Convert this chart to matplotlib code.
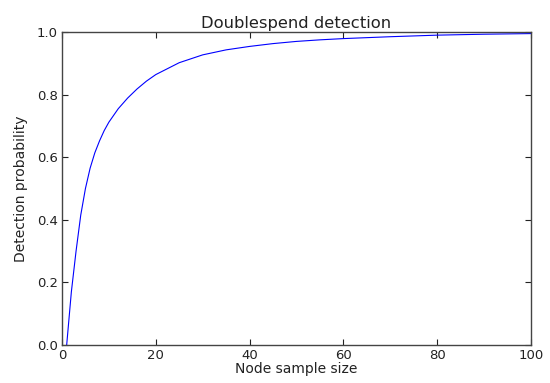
import matplotlib
matplotlib.use("Agg")
from matplotlib import pyplot as plt

# values
sample_size = [1, 2, 3, 4, 5, 6, 7, 8, 9, 10, 12, 14, 16, 18, 20, 25, 30, 35,
               40, 45, 50, 55, 60, 70, 80, 90, 100]
detect_prob = [0.0, 0.17, 0.30, 0.415, 0.50, 0.565, 0.614, 0.652, 0.685, 0.712,
               0.755, 0.789, 0.818, 0.843, 0.864, 0.902, 0.927, 0.943,
               0.954, 0.963, 0.970, 0.975, 0.979, 0.985, 0.990, 0.993, 0.995]

x_ticks = [0, 20, 40, 60, 80, 100]
y_ticks = [0.0, 0.2, 0.4, 0.6, 0.8, 1.0]

fig = plt.figure(figsize=(5.5, 3.83), dpi=100)
ax = fig.add_axes([0.1127, 0.0992, 0.8527, 0.8172])

ax.plot(sample_size, detect_prob, color="blue", lw=0.8)

ax.set_xlim(0, 100)
ax.set_ylim(0, 1.0)
ax.set_xticks(x_ticks)
ax.set_yticks(y_ticks)
ax.set_xticklabels([str(t) for t in x_ticks])
ax.set_yticklabels([f"{t:.1f}" for t in y_ticks])
ax.tick_params(direction="in", top=True, right=True, length=4, width=0.8,
               labelsize=9.5, pad=3, colors="#222222")
for s in ax.spines.values():
    s.set_linewidth(1.0)
    s.set_color("#444444")

ax.set_xlabel("Node sample size", fontsize=10, labelpad=0, color="#222222")
ax.set_ylabel("Detection probability", fontsize=10, labelpad=6, color="#222222")
ax.set_title("Doublespend detection", fontsize=11.8, pad=3, color="#222222")

fig.savefig("out.png", dpi=100)
